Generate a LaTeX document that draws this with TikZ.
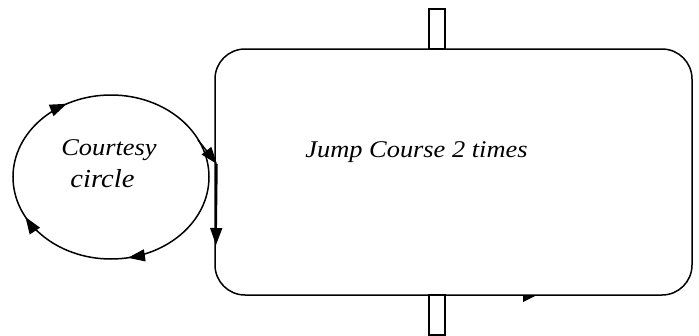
\documentclass[tikz,border=0pt]{standalone}
\usepackage{fontspec}
\setmainfont{Liberation Serif}
\usetikzlibrary{arrows.meta,decorations.markings}

\begin{document}
\begin{tikzpicture}[x=1pt, y=-1pt, line width=1.5pt,
    gate/.style={draw, rectangle, minimum width=16pt, minimum height=40pt, inner sep=0pt},
    course/.style={draw, rectangle, rounded corners=30pt, minimum width=477pt, minimum height=246pt, inner sep=0pt},
    label/.style={font=\itshape\fontsize{24}{28}\selectfont, xscale=1.1, inner sep=0pt, anchor=base},
    tip/.style={-{Triangle[length=17pt,width=12pt]}},
    ring/.style={postaction=decorate, decoration={markings,
        mark=at position 0.22 with {\arrow{Triangle[length=17pt,width=12pt]}},
        mark=at position 0.425 with {\arrow{Triangle[length=17pt,width=12pt]}},
        mark=at position 0.67 with {\arrow{Triangle[length=17pt,width=12pt]}}}}]

        \useasboundingbox (0,0) rectangle (699,335);

        % Gates above and below the course
        \node[gate] (gtop) at (437,29) {};
        \node[gate] (gbot) at (437,315) {};

        % The course ring with its label
        \node[course] (ring) at (453.5,172) {};
        \node[label] (jump) at (416.5,157) {Jump Course 2 times};

        % Courtesy circle, run round clockwise
        \draw[ring] (111,177) ellipse [x radius=98, y radius=82];
        \node[label] (word1) at (109,155) {Courtesy};
        \node[label, font=\itshape\fontsize{26}{30}\selectfont] (word2) at (102.5,187) {circle};

        % Way out of the circle and into the ring
        \coordinate (leave) at (198,140);
        \coordinate (entry) at (217,164);
        \coordinate (down) at (216,245);
        \draw[tip] (leave) -- (entry);
        \draw[tip] (entry) -- (down);

        % Small mark on the lower side
        \fill (523,295) -- (523,302) -- (537,295) -- cycle;
\end{tikzpicture}
\end{document}
